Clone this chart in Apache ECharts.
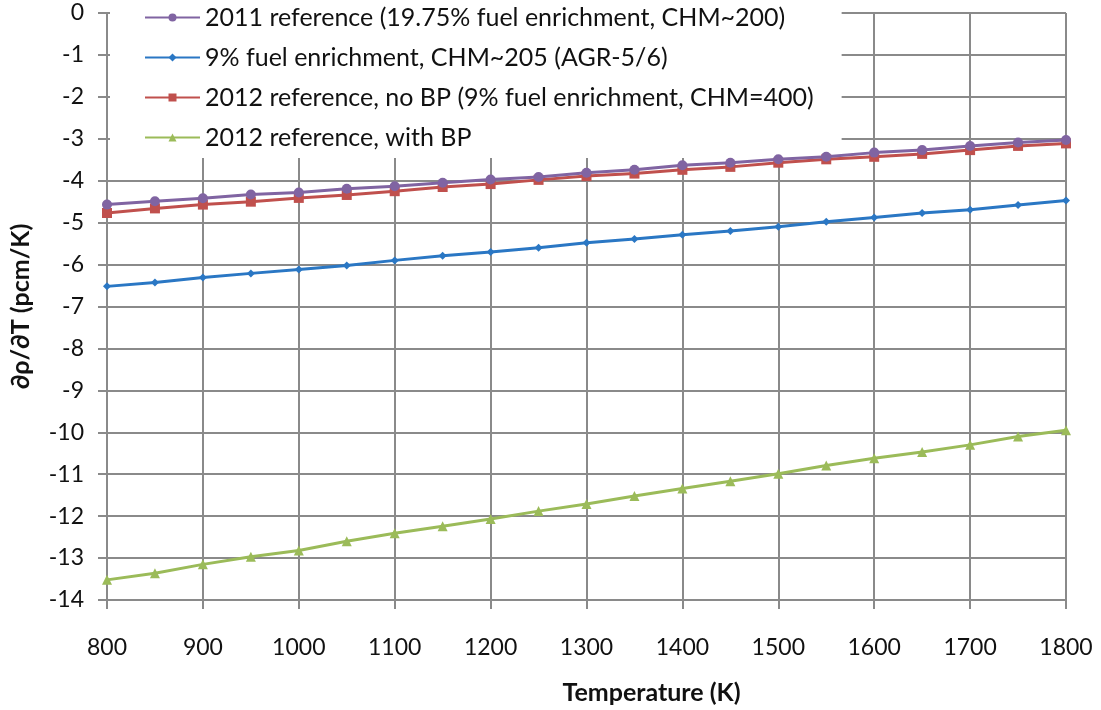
<!DOCTYPE html>
<html><head><meta charset="utf-8">
<script src="https://cdn.jsdelivr.net/npm/echarts@6/dist/echarts.min.js"></script>
<style>html,body{margin:0;padding:0;background:#fff}#c{width:1101px;height:710px}</style>
</head><body><div id="c"></div>
<script>
const temps = [800,850,900,950,1000,1050,1100,1150,1200,1250,1300,1350,1400,1450,1500,1550,1600,1650,1700,1750,1800];
const seriesNames = [
  '2011 reference (19.75% fuel enrichment, CHM~200)',
  '9% fuel enrichment, CHM~205 (AGR-5/6)',
  '2012 reference, no BP (9% fuel enrichment, CHM=400)',
  '2012 reference, with BP'
];
const ref2011 = [-4.57,-4.49,-4.42,-4.33,-4.28,-4.19,-4.13,-4.05,-3.97,-3.91,-3.81,-3.74,-3.63,-3.57,-3.49,-3.43,-3.33,-3.27,-3.17,-3.09,-3.03];
const enr9 = [-6.52,-6.43,-6.31,-6.21,-6.12,-6.02,-5.90,-5.79,-5.70,-5.60,-5.48,-5.39,-5.29,-5.20,-5.10,-4.98,-4.88,-4.77,-4.69,-4.58,-4.47];
const ref2012noBP = [-4.77,-4.66,-4.57,-4.50,-4.41,-4.34,-4.25,-4.15,-4.08,-3.98,-3.89,-3.83,-3.74,-3.67,-3.57,-3.49,-3.43,-3.36,-3.27,-3.17,-3.11];
const ref2012BP = [-13.52,-13.36,-13.15,-12.97,-12.82,-12.60,-12.41,-12.24,-12.07,-11.88,-11.71,-11.52,-11.34,-11.17,-10.99,-10.79,-10.62,-10.47,-10.30,-10.10,-9.95];
const yTicks = [0,-1,-2,-3,-4,-5,-6,-7,-8,-9,-10,-11,-12,-13,-14];
const xTicks = [800,900,1000,1100,1200,1300,1400,1500,1600,1700,1800];

const FONT = 'Lato, "Open Sans", sans-serif';
const colors = ['#8064A2','#2A77C4','#C0504D','#9BBB59'];
const symbols = ['circle','diamond','rect','triangle'];
const sizes = [10,8,10,10];
const datasets = [ref2011, enr9, ref2012noBP, ref2012BP];

const chart = echarts.init(document.getElementById('c'));
chart.setOption({
  animation:false,
  backgroundColor:'#fff',
  grid:{left:103,right:35,top:13,bottom:104},
  legend:{
    orient:'vertical', left:110, top:0,
    backgroundColor:'#fff',
    padding:[5,28,8,34],
    itemGap:15, itemWidth:55, itemHeight:10,
    textStyle:{fontFamily:FONT,fontSize:25,color:'#111'},
    data:seriesNames
  },
  xAxis:{
    type:'value', min:800, max:1800, interval:100,
    name:'Temperature (K)', nameLocation:'middle', nameGap:80,
    nameTextStyle:{fontFamily:FONT,fontSize:25,fontWeight:'bold',color:'#111',padding:[0,0,0,130]},
    axisLine:{show:true,onZero:false,lineStyle:{color:'#8a8a8a',width:2}},
    axisTick:{show:true,length:9,lineStyle:{color:'#8a8a8a',width:2}},
    axisLabel:{fontFamily:FONT,fontSize:23,color:'#111',margin:36,
      formatter:v=>{const t=xTicks.find(x=>x===v);return t===undefined?'':String(t);}},
    splitLine:{show:true,lineStyle:{color:'#8a8a8a',width:2}}
  },
  yAxis:{
    type:'value', min:-14, max:0, interval:1,
    name:'∂ρ/∂T (pcm/K)', nameLocation:'middle', nameGap:74,
    nameTextStyle:{fontFamily:FONT,fontSize:25,fontWeight:'bold',color:'#111'},
    axisLine:{show:true,lineStyle:{color:'#8a8a8a',width:2}},
    axisTick:{show:true,length:9,lineStyle:{color:'#8a8a8a',width:2}},
    axisLabel:{fontFamily:FONT,fontSize:23,color:'#111',margin:23,
      formatter:v=>{const t=yTicks.find(x=>x===v);return t===undefined?'':String(t);}},
    splitLine:{show:true,lineStyle:{color:'#8a8a8a',width:2}}
  },
  series:datasets.map((d,i)=>({
    name:seriesNames[i], type:'line',
    data:temps.map((t,j)=>[t,d[j]]),
    symbol:symbols[i], symbolSize:sizes[i], showSymbol:true,
    lineStyle:{color:colors[i],width:3},
    itemStyle:{color:colors[i]},
    z:10-i
  }))
});
</script></body></html>
